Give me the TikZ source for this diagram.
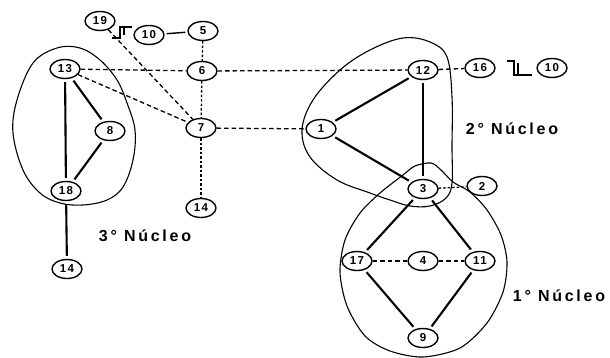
\documentclass[tikz,border=0pt]{standalone}
\usepackage{fontspec}
\setmainfont{Liberation Sans}
\usetikzlibrary{shapes.geometric}
\tikzset{
  vertex/.style={draw, ellipse, line width=1.4pt, minimum width=30pt, minimum height=19pt,
    inner sep=0pt, font=\fontsize{11.5}{11.5}\selectfont\bfseries\addfontfeature{LetterSpace=12}},
  strong/.style={line width=2.1pt, shorten <=3pt, shorten >=3pt},
  weak/.style={line width=1.3pt, dash pattern=on 4.5pt off 3pt},
  fine/.style={line width=1.3pt, dash pattern=on 2.5pt off 2pt},
  nucleus/.style={line width=1.1pt},
  pulse/.style={line width=1.4pt},
  caption/.style={font=\fontsize{16}{16}\selectfont\bfseries\addfontfeature{LetterSpace=17}}
}
\begin{document}
\begin{tikzpicture}[x=1pt, y=-1pt]
\useasboundingbox (0,0) rectangle (610,358);

% vertices
\node[vertex] (n19)  at (100,21)  {19};
\node[vertex] (n10a) at (149,35)  {10};
\node[vertex] (n5)   at (203,31)  {5};
\node[vertex] (n6)   at (202,71)  {6};
\node[vertex] (n13)  at (65,69)   {13};
\node[vertex] (n8)   at (110,131) {8};
\node[vertex] (n18)  at (66,191)  {18};
\node[vertex] (n14)  at (67,269)  {14};
\node[vertex] (n7)   at (201,128) {7};
\node[vertex] (n15)  at (201,208) {14};
\node[vertex] (n12)  at (423,70)  {12};
\node[vertex] (n16)  at (480,68)  {16};
\node[vertex] (n10b) at (552,68)  {10};
\node[vertex] (n1)   at (321,129) {1};
\node[vertex] (n3)   at (423,189) {3};
\node[vertex] (n2)   at (482,186) {2};
\node[vertex] (n17)  at (357,261) {17};
\node[vertex] (n4)   at (423,261) {4};
\node[vertex] (n11)  at (480,261) {11};
\node[vertex] (n9)   at (423,338) {9};

% nuclei outlines
\draw[nucleus] plot[smooth cycle, tension=0.6] coordinates {
  (17,100) (33,63) (57,48) (80,48) (100,60) (117,80) (127,103) (135,130)
  (133,160) (123,187) (107,200) (83,205) (60,203) (40,193) (23,170) (13,133)};
\draw[nucleus] plot[smooth cycle, tension=0.6] coordinates {
  (302,130) (313,100) (340,70) (370,50) (403,38) (430,42) (447,57) (452,97)
  (452,147) (452,183) (446,198) (430,206) (410,206) (390,200) (370,193)
  (337,180) (310,157)};
\draw[nucleus] plot[smooth cycle, tension=0.5] coordinates {
  (403,175) (415,166) (431,163) (441,170) (453,182) (470,192) (487,210)
  (501,235) (507,262) (503,292) (487,323) (460,348) (423,357) (390,351)
  (365,336) (347,306) (340,272) (345,240) (360,213) (380,193)};

% solid connectors
\draw[line width=1.4pt, shorten <=2pt, shorten >=2pt] (n10a) -- (n5);
\draw[strong] (n13) -- (n18);
\draw[strong] (n13) -- (n8);
\draw[strong] (n8) -- (n18);
\draw[strong] (n18) -- (n14);
\draw[strong] (n12) -- (n1);
\draw[strong] (n12) -- (n3);
\draw[strong] (n1) -- (n3);
\draw[strong] (n3) -- (n17);
\draw[strong] (n3) -- (n11);
\draw[strong] (n17) -- (n9);
\draw[strong] (n11) -- (n9);

% dashed connectors
\draw[fine] (n5) -- (n6);
\draw[weak] (n13) -- (n6);
\draw[weak] (n6) -- (n12);
\draw[weak] (n12) -- (n16);
\draw[fine] (n6) -- (n7);
\draw[weak] (n13) -- (n7);
\draw[weak] (n19) -- (n7);
\draw[fine] (n7) -- (n15);
\draw[weak] (n7) -- (n1);
\draw[fine] (n3) -- (n2);
\draw[weak] (n17) -- (n4);
\draw[weak] (n4) -- (n11);

% step symbols
\coordinate (p1) at (112,38);
\coordinate (p2) at (507,61);
\draw[pulse] (p1) -- ++(8,0) -- ++(0,-11) -- ++(12,0);
\draw[pulse] (124,27) -- ++(0,8);
\draw[pulse] (p2) -- ++(7,0) -- ++(0,14) -- ++(18,0);
\draw[pulse] (518,63) -- ++(0,12);

% captions
\node[caption] at (512,129) {2° Núcleo};
\node[caption] at (559,296) {1° Núcleo};
\node[caption] at (145,236) {3° Núcleo};
\end{tikzpicture}
\end{document}
